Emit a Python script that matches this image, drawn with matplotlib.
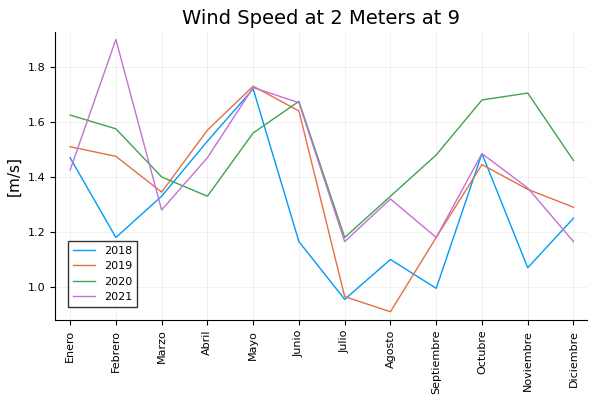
import matplotlib.pyplot as plt

meses = ["Enero", "Febrero", "Marzo", "Abril", "Mayo", "Junio", "Julio",
         "Agosto", "Septiembre", "Octubre", "Noviembre", "Diciembre"]
v2018 = [1.47, 1.18, 1.33, 1.53, 1.72, 1.165, 0.955, 1.10, 0.995, 1.485, 1.07, 1.25]
v2019 = [1.51, 1.475, 1.345, 1.57, 1.73, 1.64, 0.965, 0.91, 1.18, 1.445, 1.355, 1.29]
v2020 = [1.625, 1.575, 1.40, 1.33, 1.56, 1.675, 1.18, 1.33, 1.48, 1.68, 1.705, 1.46]
v2021 = [1.425, 1.90, 1.28, 1.47, 1.725, 1.67, 1.165, 1.32, 1.18, 1.485, 1.36, 1.165]

series = [("2018", v2018, "#009AFA"), ("2019", v2019, "#E36F47"),
          ("2020", v2020, "#3EA44E"), ("2021", v2021, "#C371D2")]

fig = plt.figure(figsize=(6, 4), dpi=100)
ax = fig.add_axes([0.0917, 0.2, 0.887, 0.72])
x = range(len(meses))
for name, vals, c in series:
    ax.plot(x, vals, color=c, linewidth=1, label=name)

ax.set_xlim(-0.33, 11.3)
ax.set_ylim(0.88, 1.927)
ax.set_xticks(list(x))
ax.set_xticklabels(meses, rotation=90, fontsize=8)
ax.set_yticks([1.0, 1.2, 1.4, 1.6, 1.8])
ax.set_yticklabels(["1.0", "1.2", "1.4", "1.6", "1.8"], fontsize=8)
ax.grid(True, color="#000000", alpha=0.08, linewidth=0.5)
for s in ["top", "right"]:
    ax.spines[s].set_visible(False)
ax.set_title("Wind Speed at 2 Meters at 9", fontsize=14)
ax.set_ylabel("[m/s]", fontsize=11)
ax.set_xlabel("Mes", fontsize=11, labelpad=8)
ax.legend(loc="lower left", fontsize=8, fancybox=False, edgecolor="black",
          borderaxespad=1.2)
fig.savefig("out.png")
